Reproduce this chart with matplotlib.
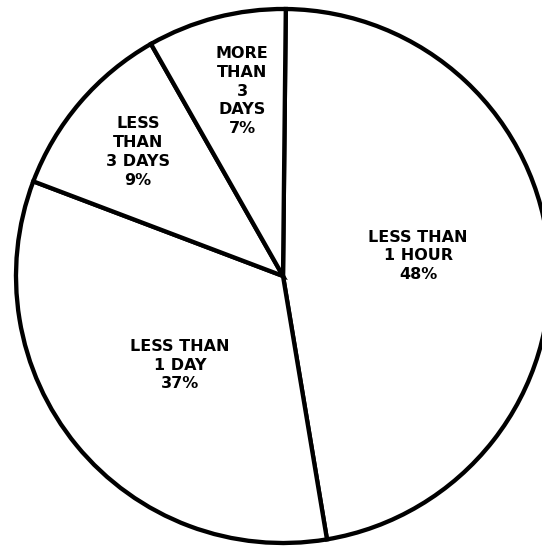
import matplotlib
matplotlib.use("Agg")
import matplotlib.pyplot as plt

# Slice sizes as drawn in the picture (degrees measured -> percent)
categories = ["LESS THAN\n1 HOUR", "LESS THAN\n1 DAY", "LESS\nTHAN\n3 DAYS", "MORE\nTHAN\n3\nDAYS"]
slice_sizes = [47.2, 33.4, 11.0, 8.4]
printed_percent = ["48%", "37%", "9%", "7%"]

W, H = 542, 548
fig = plt.figure(figsize=(W / 100, H / 100), dpi=100)
ax = fig.add_axes([0, 0, 1, 1])

cx, cy, r = 283, H - 276, 267
ax.pie(slice_sizes, startangle=89.4, counterclock=False, center=(cx, cy), radius=r,
       colors=["white"] * len(slice_sizes),
       wedgeprops=dict(edgecolor="black", linewidth=3.1, joinstyle="miter"),
       frame=True)
ax.set_xlim(0, W)
ax.set_ylim(0, H)
ax.set_aspect("equal")
ax.axis("off")

label_pos = [(418, 256), (180, 365), (138, 152), (242, 91)]
for cat, pct, (x, y) in zip(categories, printed_percent, label_pos):
    ax.text(x, H - y, f"{cat}\n{pct}", ha="center", va="center", fontsize=11.5,
            fontweight="heavy", family="DejaVu Sans", linespacing=1.33, color="black")

fig.savefig("out.png", dpi=100, facecolor="white")
